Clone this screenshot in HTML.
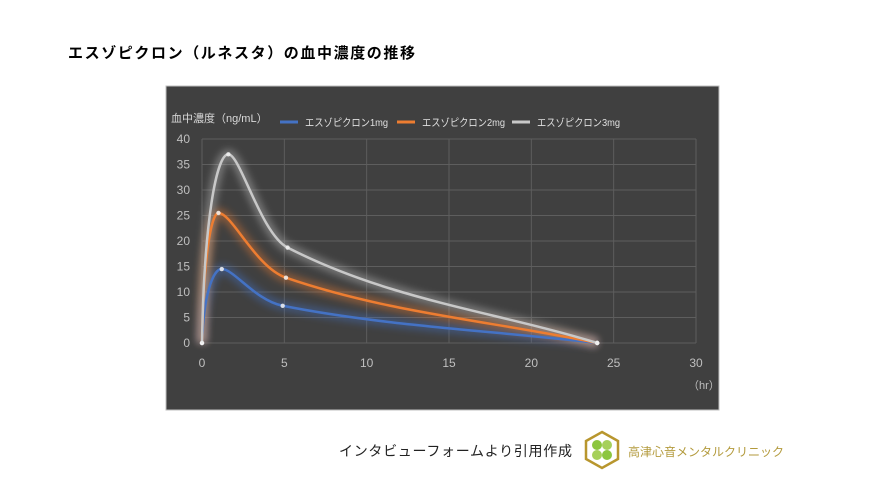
<!DOCTYPE html>
<html><head><meta charset="utf-8">
<style>
body{margin:0;width:886px;height:498px;background:#fff;font-family:"Liberation Sans","Noto Sans CJK JP",sans-serif;position:relative;overflow:hidden}
.t{position:absolute;white-space:nowrap}
</style></head><body>
<div class="t" style="left:68px;top:42px;font-size:15px;font-weight:bold;color:#000;letter-spacing:1.6px">エスゾピクロン（ルネスタ）の血中濃度の推移</div>
<svg id="chart" width="886" height="498" style="position:absolute;left:0;top:0">
<defs>
<filter id="glow" x="-20%" y="-20%" width="140%" height="140%"><feGaussianBlur stdDeviation="4"/></filter>
</defs>
<rect x="166" y="86" width="553" height="324" fill="#404040" stroke="#bfbfbf" stroke-width="1"/>
<g id="grid"></g><g id="glows"></g><g id="lines"></g><g id="labels"></g>
</svg>
<div class="t" style="left:339px;top:441px;font-size:14px;color:#222;letter-spacing:0.7px">インタビューフォームより引用作成</div>
<svg width="40" height="40" style="position:absolute;left:582px;top:430px">
<polygon points="20,2 36,11 36,29 20,38 4,29 4,11" fill="#fff" stroke="#b8962e" stroke-width="2.5"/>
<circle cx="15" cy="15" r="5" fill="#8cc63f"/><circle cx="25" cy="15" r="5" fill="#a6d05a"/>
<circle cx="15" cy="25" r="5" fill="#a6d05a"/><circle cx="25" cy="25" r="5" fill="#8cc63f"/>
</svg>
<div class="t" style="left:628px;top:443px;font-size:12px;color:#b39a3c">高津心音メンタルクリニック</div>
<script>
const xTicks=[0,5,10,15,20,25,30];
const yTicks=[0,5,10,15,20,25,30,35,40];
const seriesNames=["エスゾピクロン1mg","エスゾピクロン2mg","エスゾピクロン3mg"];
const seriesColors=["#4472c4","#ed7d31","#c8c8c8"];
const times1=[0,1.2,4.9,24]; const vals1=[0,14.5,7.3,0];
const times2=[0,1,5.1,24]; const vals2=[0,25.5,12.8,0];
const times3=[0,1.6,5.2,24]; const vals3=[0,37,18.7,0];
const X=v=>202+v*(494/30), Y=v=>343-v*(204/40);
const NS="http://www.w3.org/2000/svg";
function mk(tag,attrs,parent){const e=document.createElementNS(NS,tag);for(const k in attrs)e.setAttribute(k,attrs[k]);document.getElementById(parent).appendChild(e);return e;}
xTicks.forEach(t=>{
 const l=mk('line',{x1:X(t),x2:X(t),y1:Y(40),y2:Y(0),stroke:'#5e5e5e','stroke-width':1},'grid');
 
 
 const tx=mk('text',{x:X(t),y:367,fill:'#bfbfbf','font-size':12,'text-anchor':'middle'},'labels');tx.textContent=t;
 
 
});
yTicks.forEach(t=>{
 const l=mk('line',{x1:X(0),x2:X(30),y1:Y(t),y2:Y(t),stroke:'#5e5e5e','stroke-width':1},'grid');
 
 
 const tx=mk('text',{x:190,y:Y(t)+4,fill:'#bfbfbf','font-size':12,'text-anchor':'end'},'labels');tx.textContent=t;
 
 
});
let t1=mk('text',{x:171,y:122,fill:'#d9d9d9','font-size':11},'labels');t1.textContent='血中濃度（ng/mL）';


let t2=mk('text',{x:688,y:389,fill:'#bfbfbf','font-size':11},'labels');t2.textContent='（hr）';


function path(ts,vs){
 const p=ts.map((t,i)=>[X(t),Y(vs[i])]),n=p.length,dir=[];
 dir[n-1]=[1,(p[n-1][1]-p[n-2][1])/(p[n-1][0]-p[n-2][0])];
 for(let i=1;i<n-1;i++){
  const a=vs[i]-vs[i-1],b=vs[i+1]-vs[i];
  if(a*b<=0)dir[i]=[1,0];else dir[i]=[1,(p[i+1][1]-p[i-1][1])/(p[i+1][0]-p[i-1][0])];}
 let d=`M${p[0][0]},${p[0][1]}`;
 for(let i=0;i<n-1;i++){
  const dx=p[i+1][0]-p[i][0],dy=p[i+1][1]-p[i][1];
  let c1,c2;
  if(i===0){c1=[p[0][0]+dx*0.08,p[0][1]+dy*0.65];c2=[p[1][0]-dx*0.45,p[1][1]];}
  else if(i===1){const k1=dx*0.2,k2=dx*0.45;c1=[p[i][0]+k1,p[i][1]+dir[i][1]*k1];c2=[p[i+1][0]-k2,p[i+1][1]-dir[i+1][1]*k2];}
  else{const k=dx/3;c1=[p[i][0]+k,p[i][1]+dir[i][1]*k];c2=[p[i+1][0]-k,p[i+1][1]-dir[i+1][1]*k];}
  d+=` C${c1[0]},${c1[1]} ${c2[0]},${c2[1]} ${p[i+1][0]},${p[i+1][1]}`;}
 return d;}
const all=[[times1,vals1],[times2,vals2],[times3,vals3]];
const legX=[280,397,512];
all.forEach(([ts,vs],i)=>{
 const d=path(ts,vs);
 const g=mk('path',{d,fill:'none',stroke:seriesColors[i],'stroke-width':9,opacity:0.45,filter:'url(#glow)'},'glows');
 
 
 const l=mk('path',{d,fill:'none',stroke:seriesColors[i],'stroke-width':2.5},'lines');
 
 
 ts.forEach((t,j)=>{const c=mk('circle',{cx:X(t),cy:Y(vs[j]),r:2.2,fill:'#f2f2f2',opacity:0.85},'lines');
  
  });
 const ll=mk('line',{x1:legX[i],x2:legX[i]+18,y1:122,y2:122,stroke:seriesColors[i],'stroke-width':3},'labels');
 
 
 const lt=mk('text',{x:legX[i]+25,y:126,fill:'#e0e0e0','font-size':10.5,textLength:83,lengthAdjust:'spacingAndGlyphs'},'labels');lt.textContent=seriesNames[i];
 
 
});
</script>
</body></html>
